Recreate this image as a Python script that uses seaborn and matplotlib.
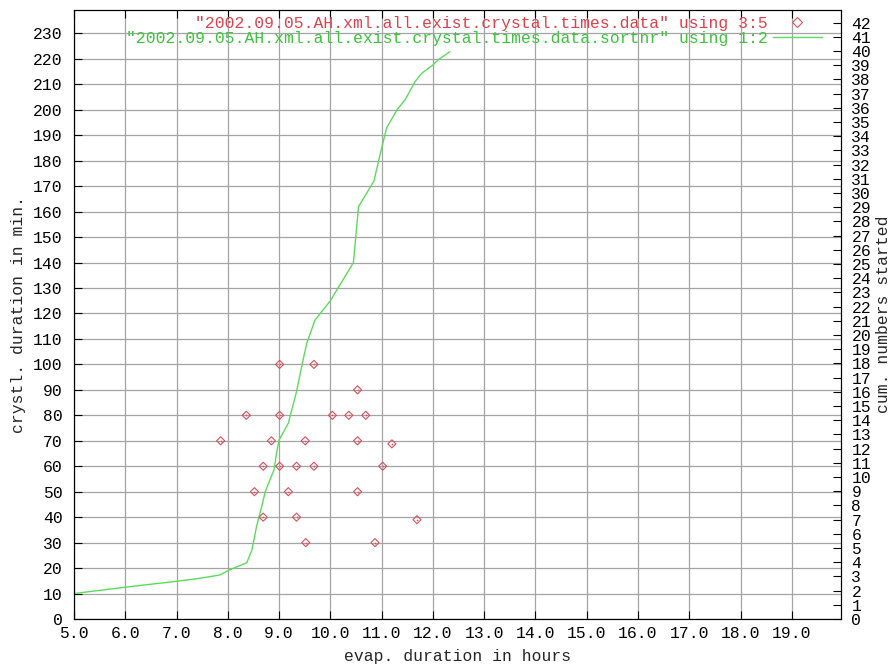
import matplotlib
matplotlib.use("Agg")
import matplotlib.pyplot as plt
import seaborn as sns
import pandas as pd
from matplotlib.lines import Line2D

# crystallisation duration (min) against evaporation duration (h)
evap_hours = [9.01, 9.68, 10.53, 8.36, 9.01, 10.04, 10.36, 10.69,
              7.86, 8.85, 9.51, 10.53, 11.20, 8.69, 9.01, 9.34, 9.68, 11.02,
              8.52, 9.18, 10.53, 8.69, 9.34, 11.69, 9.52, 10.87]
cryst_minutes = [100, 100, 90, 80, 80, 80, 80, 80,
                 70, 70, 70, 70, 68.8, 60, 60, 60, 60, 60,
                 50, 50, 50, 40, 40, 39, 30, 30]

# sorted curve (using 1:2)
sorted_hours = [5.0, 6.0, 7.0, 7.46, 7.85, 8.0, 8.37, 8.47, 8.56, 8.66, 8.73,
                8.82, 8.90, 8.95, 9.0, 9.18, 9.34, 9.44, 9.54, 9.70, 10.0,
                10.45, 10.55, 10.85, 11.0, 11.1, 11.3, 11.46, 11.65, 11.78,
                12.0, 12.1, 12.33]
sorted_values = [10, 12.5, 14.8, 16.0, 17.3, 19.0, 22.1, 27.1, 36.3, 44.1, 50,
                 54.6, 58.5, 65.1, 70.3, 76.9, 89.3, 99.1, 108.3, 117.4, 125,
                 140, 162, 172, 185, 193, 200, 204, 211, 214.3,
                 217.6, 219.6, 222.8]

x_ticks = [5, 6, 7, 8, 9, 10, 11, 12, 13, 14, 15, 16, 17, 18, 19]
y_ticks = list(range(0, 231, 10))
y2_ticks = list(range(0, 43))

label_points = '"2002.09.05.AH.xml.all.exist.crystal.times.data" using 3:5'
label_curve = '"2002.09.05.AH.xml.all.exist.crystal.times.data.sortnr" using 1:2'

RED = "#e0404a"
RED_MARK = "#d8505c"
GREEN_TXT = "#3cc43c"
GREEN_LINE = "#5cdc5c"
GRID = "#a4a4a4"
FS = 11.8

sns.set_style("white")
plt.rcParams["font.family"] = ["Liberation Mono", "DejaVu Sans Mono"]
plt.rcParams["axes.linewidth"] = 0.8

W, H = 893, 668
fig = plt.figure(figsize=(W / 100, H / 100), dpi=100)
left, right, bottom, top = 74, 841, 619, 9.5
ax = fig.add_axes([left / W, 1 - bottom / H, (right - left) / W, (bottom - top) / H])

pts = pd.DataFrame({"evap": evap_hours, "cryst": cryst_minutes})
curve = pd.DataFrame({"evap": sorted_hours, "value": sorted_values})

sns.lineplot(data=curve, x="evap", y="value", sort=False, estimator=None,
             color=GREEN_LINE, linewidth=1.0, ax=ax, zorder=3)
sns.scatterplot(data=pts, x="evap", y="cryst", marker="D", s=17,
                fc="none", ec=RED_MARK, linewidth=0.8, ax=ax, zorder=4)
sns.scatterplot(data=pts, x="evap", y="cryst", marker="o", s=1.5,
                color=RED_MARK, linewidth=0, ax=ax, zorder=4)

ax.set_xlim(5, 19.96)
ax.set_ylim(0, 239.4)
ax.set_xticks(x_ticks)
ax.set_xticklabels([f"{v:.1f}" for v in x_ticks])
ax.set_yticks(y_ticks)
ax.set_yticklabels([str(v) for v in y_ticks])
ax.grid(True, color=GRID, linewidth=0.9, zorder=0)
ax.set_axisbelow(True)
ax.tick_params(axis="x", direction="in", length=6, width=0.8, top=True,
               bottom=True, pad=5, labelsize=FS, colors="black")
ax.tick_params(axis="y", direction="in", length=6, width=0.8, left=True,
               right=False, pad=8, labelsize=FS, colors="black")
for s in ax.spines.values():
    s.set_color("black")
    s.set_linewidth(0.8)

ax2 = ax.twinx()
ax2.set_ylim(0, 42.93)
ax2.set_yticks(y2_ticks)
ax2.set_yticklabels([str(v) for v in y2_ticks])
ax2.tick_params(axis="y", direction="in", length=6, width=0.8, pad=7.5,
                labelsize=FS, colors="black")
for s in ax2.spines.values():
    s.set_color("black")
    s.set_linewidth(0.8)

ax.set_xlabel("evap. duration in hours", fontsize=FS)
ax.set_ylabel("crystl. duration in min.", fontsize=FS)
ax2.set_ylabel("cum. numbers started", fontsize=FS)
span_w, span_h = right - left, bottom - top
ax.xaxis.set_label_coords(0.5, (bottom - 657) / span_h)
ax.yaxis.set_label_coords((18 - left) / span_w, 0.5)
ax2.yaxis.set_label_coords((884 - left) / span_w, 0.5)
for lab in (ax.xaxis.label, ax.yaxis.label, ax2.yaxis.label):
    lab.set_va("center")
    lab.set_ha("center")

handles = [
    Line2D([], [], marker="D", ls="none", mfc="none", mec=RED_MARK, ms=4.6, mew=0.8),
    Line2D([], [], color=GREEN_LINE, lw=1.0),
]
leg = ax2.legend(handles, [label_points, label_curve], loc="upper right",
                 bbox_to_anchor=(822 / W, 1 - 16 / H), bbox_transform=fig.transFigure,
                 frameon=False, markerfirst=False, handlelength=3.0,
                 handletextpad=0.3, borderaxespad=0, borderpad=0,
                 labelspacing=-0.03, fontsize=FS, labelcolor=[RED, GREEN_TXT])

fig.savefig("out.png", dpi=100)
